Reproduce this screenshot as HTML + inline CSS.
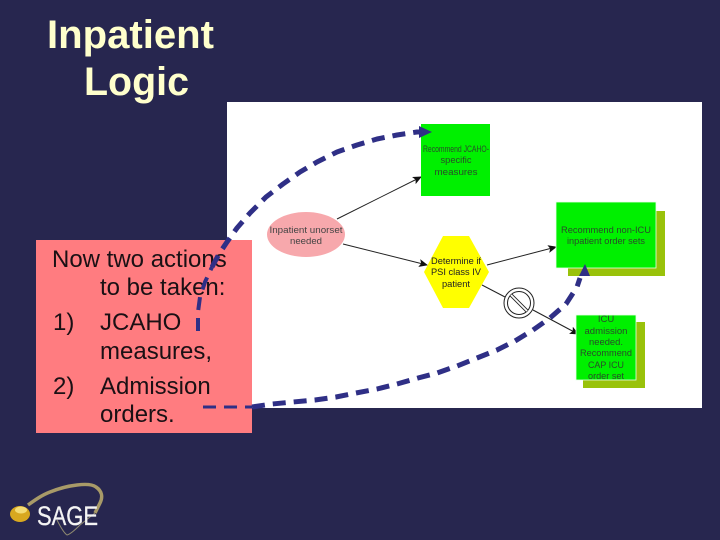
<!DOCTYPE html>
<html>
<head>
<meta charset="utf-8">
<style>
html,body{margin:0;padding:0;background:#27264f;}
body{width:720px;height:540px;overflow:hidden;position:relative;font-family:"Liberation Sans",sans-serif;}
svg{position:absolute;left:0;top:0;}
</style>
</head>
<body>
<svg width="720" height="540" viewBox="0 0 720 540" xmlns="http://www.w3.org/2000/svg" font-family="'Liberation Sans',sans-serif">
<defs>
<marker id="a" markerWidth="9" markerHeight="8" refX="8" refY="4" orient="auto" markerUnits="userSpaceOnUse"><path d="M0,0 L9,4 L0,8 L2,4 Z" fill="#111"/></marker>
</defs>
<rect width="720" height="540" fill="#27264f"/>
<!-- Title -->
<text x="47" y="48" font-size="40" font-weight="bold" fill="#ffffcc" textLength="167" lengthAdjust="spacingAndGlyphs">Inpatient</text>
<text x="84" y="95" font-size="40" font-weight="bold" fill="#ffffcc" textLength="105" lengthAdjust="spacingAndGlyphs">Logic</text>
<!-- Panel -->
<rect x="227" y="102" width="475" height="306" fill="#fff"/>
<!-- Connectors -->
<g stroke="#222" stroke-width="1" fill="none">
<line x1="337" y1="219" x2="421" y2="177" marker-end="url(#a)"/>
<line x1="343" y1="244" x2="427" y2="265" marker-end="url(#a)"/>
<line x1="487" y1="265" x2="556" y2="247" marker-end="url(#a)"/>
<line x1="482" y1="285" x2="505" y2="297"/>
<line x1="533" y1="310" x2="578" y2="334" marker-end="url(#a)"/>
</g>
<!-- Ellipse -->
<ellipse cx="306" cy="234.500" rx="39" ry="22.500" fill="#f7a8ac"/>
<g font-size="9.500" fill="#444" text-anchor="middle">
<text x="306" y="233" textLength="73" lengthAdjust="spacingAndGlyphs">Inpatient unorset</text>
<text x="306" y="244" textLength="32" lengthAdjust="spacingAndGlyphs">needed</text>
</g>
<!-- Green box 1 -->
<rect x="421" y="124" width="69" height="72" fill="#00f000"/>
<g font-size="9.500" fill="#2a4a2a" text-anchor="middle">
<text x="456" y="152" textLength="66" lengthAdjust="spacingAndGlyphs">Recommend JCAHO-</text>
<text x="456" y="163" textLength="31" lengthAdjust="spacingAndGlyphs">specific</text>
<text x="456" y="175" textLength="43" lengthAdjust="spacingAndGlyphs">measures</text>
</g>
<!-- Green box 2 -->
<rect x="568" y="211" width="97" height="65" fill="#99c20a"/>
<rect x="556" y="202" width="100" height="66" fill="#00f000" stroke="#e8ffe8" stroke-width="0.800"/>
<g font-size="9.500" fill="#2a4a2a" text-anchor="middle">
<text x="606" y="233" textLength="90" lengthAdjust="spacingAndGlyphs">Recommend non-ICU</text>
<text x="606" y="244" textLength="78" lengthAdjust="spacingAndGlyphs">inpatient order sets</text>
</g>
<!-- Hexagon -->
<polygon points="443,236 469,236 489,272 469,308 443,308 424,272" fill="#ffff00"/>
<g font-size="9.500" fill="#222" text-anchor="middle">
<text x="456" y="264" textLength="50" lengthAdjust="spacingAndGlyphs">Determine if</text>
<text x="456" y="275" textLength="50" lengthAdjust="spacingAndGlyphs">PSI class IV</text>
<text x="456" y="287" textLength="28" lengthAdjust="spacingAndGlyphs">patient</text>
</g>
<!-- No symbol -->
<circle cx="519" cy="303" r="15" fill="#fff" stroke="#222" stroke-width="1"/>
<circle cx="519" cy="303" r="11.500" fill="#fff" stroke="#222" stroke-width="1"/>
<line x1="511" y1="295" x2="527" y2="311" stroke="#222" stroke-width="3.500"/>
<line x1="511" y1="295" x2="527" y2="311" stroke="#fff" stroke-width="1.800"/>
<!-- Green box 3 -->
<rect x="583" y="322" width="62" height="66" fill="#99c20a"/>
<rect x="576" y="315" width="60" height="65" fill="#00f000" stroke="#e8ffe8" stroke-width="0.800"/>
<g font-size="9.500" fill="#2a4a2a" text-anchor="middle">
<text x="606" y="322">ICU</text>
<text x="606" y="334" textLength="43" lengthAdjust="spacingAndGlyphs">admission</text>
<text x="606" y="345" textLength="34" lengthAdjust="spacingAndGlyphs">needed.</text>
<text x="606" y="356" textLength="52" lengthAdjust="spacingAndGlyphs">Recommend</text>
<text x="606" y="368" textLength="36" lengthAdjust="spacingAndGlyphs">CAP ICU</text>
<text x="606" y="379" textLength="36" lengthAdjust="spacingAndGlyphs">order set</text>
</g>
<!-- Pink note -->
<rect x="36" y="240" width="216" height="193" fill="#ff7c80"/>
<g font-size="24" fill="#1a1014">
<text x="52" y="267">Now two actions</text>
<text x="100" y="295">to be taken:</text>
<text x="53" y="330">1)</text>
<text x="100" y="330">JCAHO</text>
<text x="100" y="359">measures,</text>
<text x="53" y="394">2)</text>
<text x="100" y="394">Admission</text>
<text x="100" y="422">orders.</text>
</g>
<!-- Dashed blue curves -->
<g fill="none" stroke="#2f2f86" stroke-linejoin="round">
<path d="M198,331 L198,312 L200,297 L205,282 L212,267" stroke-width="4" stroke-dasharray="13 8"/>
<path d="M212,267 L219,254 L227,242 L237,228 L250,213 L266,197 L283,184 L300,172 L317,162 L337,152 L357,145 L377,139 L397,135 L417,132 L423,132" stroke-width="5" stroke-dasharray="13 8"/>
<polygon points="432,132 419,126 419,138" fill="#2f2f86" stroke="none"/>
<path d="M203,407 L230,407 L252,407" stroke-width="3" stroke-dasharray="13 8"/>
<path d="M252,407 L272,404 L293,402 L315,400 L336,397 L356,393 L377,389 L397,384 L418,378 L437,373 L457,366 L477,358 L497,350 L515,341 L533,330 L550,318 L566,304 L577,287 L580,278" stroke-width="5" stroke-dasharray="13 8"/>
<polygon points="585,264 579,276 590,276" fill="#2f2f86" stroke="none"/>
</g>
<!-- Logo -->
<g fill="none">
<path d="M28,505 C35,500 42,495 50,492 C60,488 68,486 77,485 C85,484 92,484 96,487 C102,491 103,497 100,503 L95,513" stroke="#a89a68" stroke-width="3.500"/>
<path d="M57,520 C60,526 64,533 67,535 C71,534 76,529 80,525 C85,521 90,517 95,513" stroke="#8f8a70" stroke-width="1"/>
</g>
<ellipse cx="20" cy="514" rx="10" ry="8" fill="#d8a820"/>
<ellipse cx="21" cy="510" rx="6" ry="3.500" fill="#f4dc74"/>
<text x="37" y="525" font-size="27" fill="#f4f4f4" stroke="#f4f4f4" stroke-width="0.300" textLength="61" lengthAdjust="spacingAndGlyphs">SAGE</text>
</svg>
</body>
</html>
